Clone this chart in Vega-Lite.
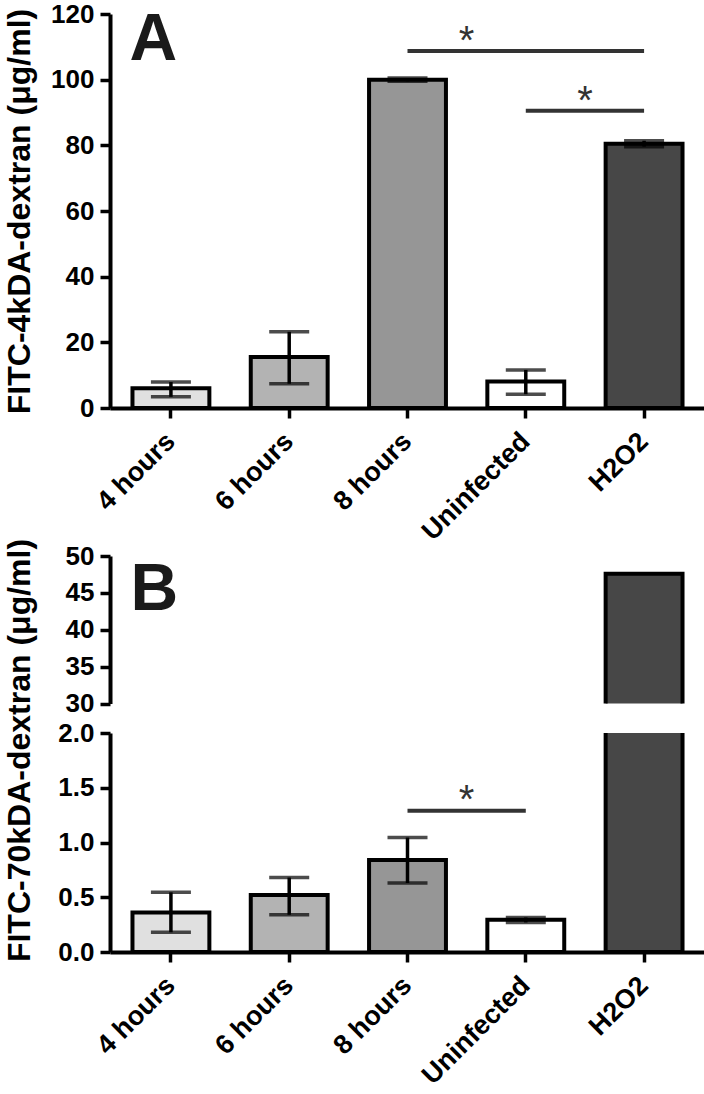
{
  "$schema": "https://vega.github.io/schema/vega-lite/v6.json",
  "padding": {"left": 2, "top": 1, "right": 0, "bottom": 0},
  "background": "white",
  "config": {
    "font": "Liberation Sans",
    "view": {"stroke": null},
    "axis": {
      "domainColor": "black", "domainWidth": 4, "tickColor": "black", "tickWidth": 3.5, "tickSize": 10,
      "labelColor": "black", "labelFont": "Liberation Sans", "labelFontWeight": "bold", "labelFontSize": 26,
      "titleFont": "Liberation Sans", "titleFontWeight": "bold", "titleFontSize": 32, "titleColor": "black",
      "grid": false, "labelOverlap": false
    },
    "axisY": {"labelPadding": 6, "minExtent": 57, "maxExtent": 57, "titlePadding": 17},
    "axisX": {"labelAngle": -45, "labelAlign": "right", "labelBaseline": "middle", "labelPadding": 19, "labelFontSize": 27, "title": null}
  },
  "datasets": {
    "a": [
      {"group": "4 hours", "value": 6.0, "lo": 3.4, "hi": 7.9},
      {"group": "6 hours", "value": 15.5, "lo": 7.4, "hi": 23.2},
      {"group": "8 hours", "value": 100, "lo": 99.5, "hi": 100.5},
      {"group": "Uninfected", "value": 8.1, "lo": 4.2, "hi": 11.6},
      {"group": "H2O2", "value": 80.5, "lo": 79.6, "hi": 81.4}
    ],
    "b": [
      {"group": "4 hours", "value": 0.36, "lo": 0.18, "hi": 0.545},
      {"group": "6 hours", "value": 0.52, "lo": 0.34, "hi": 0.68},
      {"group": "8 hours", "value": 0.84, "lo": 0.63, "hi": 1.045},
      {"group": "Uninfected", "value": 0.295, "lo": 0.27, "hi": 0.315},
      {"group": "H2O2", "value": 47.6, "lo": null, "hi": null}
    ],
    "sigA": [
      {"from": "8 hours", "to": "H2O2", "y": 108.7},
      {"from": "Uninfected", "to": "H2O2", "y": 90.5}
    ],
    "sigB": [
      {"from": "8 hours", "to": "Uninfected", "y": 1.29}
    ],
    "labA": [{"label": "A", "group": "4 hours", "y": 120}],
    "labB": [{"label": "B", "group": "4 hours", "y": 50}]
  },
  "bounds": "flush",
  "spacing": 148,
  "vconcat": [
    {
      "width": 595, "height": 394,
      "data": {"name": "a"},
      "layer": [
        {
          "mark": {"type": "bar", "stroke": "black", "strokeWidth": 4},
          "encoding": {
            "x": {"field": "group", "type": "nominal", "sort": null,
                  "scale": {"domain": ["4 hours", "6 hours", "8 hours", "Uninfected", "H2O2"], "paddingInner": 0.35, "paddingOuter": 0.19}},
            "y": {"field": "value", "type": "quantitative", "scale": {"domain": [0, 120]},
                  "axis": {"values": [0, 20, 40, 60, 80, 100, 120], "labelOverlap": false, "title": "FITC-4kDA-dextran (μg/ml)"}},
            "fill": {"field": "group", "type": "nominal",
                     "scale": {"domain": ["4 hours", "6 hours", "8 hours", "Uninfected", "H2O2"], "range": ["#e0e0e0", "#b3b3b3", "#969696", "#ffffff", "#474747"]},
                     "legend": null}
          }
        },
        {
          "mark": {"type": "rule", "strokeWidth": 3.5, "color": "black"},
          "encoding": {
            "x": {"field": "group", "type": "nominal", "sort": null},
            "y": {"field": "lo", "type": "quantitative"},
            "y2": {"field": "hi"}
          }
        },
        {
          "mark": {"type": "tick", "size": 40, "thickness": 3.5, "color": "black", "orient": "horizontal"},
          "encoding": {
            "x": {"field": "group", "type": "nominal", "sort": null},
            "y": {"field": "lo", "type": "quantitative"}
          }
        },
        {
          "mark": {"type": "tick", "size": 40, "thickness": 3.5, "color": "black", "orient": "horizontal"},
          "encoding": {
            "x": {"field": "group", "type": "nominal", "sort": null},
            "y": {"field": "hi", "type": "quantitative"}
          }
        },
        {
          "data": {"name": "sigA"},
          "mark": {"type": "rule", "strokeWidth": 4, "color": "#333333"},
          "encoding": {
            "x": {"field": "from", "type": "nominal", "bandPosition": 0.5},
            "x2": {"field": "to", "bandPosition": 0.5},
            "y": {"field": "y", "type": "quantitative"}
          }
        },
        {
          "data": {"name": "sigA"},
          "mark": {"type": "text", "text": "*", "fontSize": 40, "color": "#333333", "dy": 3, "baseline": "alphabetic", "align": "center"},
          "encoding": {
            "x": {"field": "from", "type": "nominal", "bandPosition": 1.269},
            "y": {"field": "y", "type": "quantitative"}
          }
        },
        {
          "data": {"name": "labA"},
          "mark": {"type": "text", "fontSize": 66, "fontWeight": "bold", "align": "left", "baseline": "top", "color": "#1a1a1a", "dy": -6, "dx": -3},
          "encoding": {
            "x": {"field": "group", "type": "nominal", "bandPosition": 0},
            "y": {"field": "y", "type": "quantitative"},
            "text": {"field": "label"}
          }
        }
      ]
    },
    {
      "bounds": "flush",
      "spacing": 29,
      "vconcat": [
        {
          "width": 595, "height": 147.5,
          "data": {"name": "b"},
          "layer": [
            {
              "mark": {"type": "bar", "stroke": "black", "strokeWidth": 4, "clip": true},
              "encoding": {
                "x": {"field": "group", "type": "nominal", "sort": null,
                      "scale": {"domain": ["4 hours", "6 hours", "8 hours", "Uninfected", "H2O2"], "paddingInner": 0.35, "paddingOuter": 0.19},
                      "axis": null},
                "y": {"field": "value", "type": "quantitative", "scale": {"domain": [30, 50]},
                      "axis": {"values": [30, 35, 40, 45, 50], "tickCount": 5, "labelOverlap": false, "title": null}},
                "fill": {"field": "group", "type": "nominal",
                         "scale": {"domain": ["4 hours", "6 hours", "8 hours", "Uninfected", "H2O2"], "range": ["#e0e0e0", "#b3b3b3", "#969696", "#ffffff", "#474747"]},
                         "legend": null}
              }
            },
            {
              "data": {"name": "labB"},
              "mark": {"type": "text", "fontSize": 66, "fontWeight": "bold", "align": "left", "baseline": "top", "color": "#1a1a1a", "dy": 2, "dx": -2},
              "encoding": {
                "x": {"field": "group", "type": "nominal", "bandPosition": 0},
                "y": {"field": "y", "type": "quantitative"},
                "text": {"field": "label"}
              }
            }
          ]
        },
        {
          "width": 595, "height": 219,
          "data": {"name": "b"},
          "layer": [
            {
              "mark": {"type": "bar", "stroke": "black", "strokeWidth": 4, "clip": true},
              "encoding": {
                "x": {"field": "group", "type": "nominal", "sort": null,
                      "scale": {"domain": ["4 hours", "6 hours", "8 hours", "Uninfected", "H2O2"], "paddingInner": 0.35, "paddingOuter": 0.19}},
                "y": {"field": "value", "type": "quantitative", "scale": {"domain": [0, 2]},
                      "axis": {"values": [0, 0.5, 1, 1.5, 2], "format": ".1f", "labelOverlap": false, "title": "FITC-70kDA-dextran (μg/ml)", "titleY": 17}},
                "fill": {"field": "group", "type": "nominal",
                         "scale": {"domain": ["4 hours", "6 hours", "8 hours", "Uninfected", "H2O2"], "range": ["#e0e0e0", "#b3b3b3", "#969696", "#ffffff", "#474747"]},
                         "legend": null}
              }
            },
            {
              "mark": {"type": "rule", "strokeWidth": 3.5, "color": "black"},
              "encoding": {
                "x": {"field": "group", "type": "nominal", "sort": null},
                "y": {"field": "lo", "type": "quantitative"},
                "y2": {"field": "hi"}
              }
            },
            {
              "mark": {"type": "tick", "size": 40, "thickness": 3.5, "color": "black", "orient": "horizontal"},
              "encoding": {
                "x": {"field": "group", "type": "nominal", "sort": null},
                "y": {"field": "lo", "type": "quantitative"}
              }
            },
            {
              "mark": {"type": "tick", "size": 40, "thickness": 3.5, "color": "black", "orient": "horizontal"},
              "encoding": {
                "x": {"field": "group", "type": "nominal", "sort": null},
                "y": {"field": "hi", "type": "quantitative"}
              }
            },
            {
              "data": {"name": "sigB"},
              "mark": {"type": "rule", "strokeWidth": 4, "color": "#333333"},
              "encoding": {
                "x": {"field": "from", "type": "nominal", "bandPosition": 0.5},
                "x2": {"field": "to", "bandPosition": 0.5},
                "y": {"field": "y", "type": "quantitative"}
              }
            },
            {
              "data": {"name": "sigB"},
              "mark": {"type": "text", "text": "*", "fontSize": 40, "color": "#333333", "dy": 2, "baseline": "alphabetic", "align": "center"},
              "encoding": {
                "x": {"field": "from", "type": "nominal", "bandPosition": 1.269},
                "y": {"field": "y", "type": "quantitative"}
              }
            }
          ]
        }
      ]
    }
  ]
}
